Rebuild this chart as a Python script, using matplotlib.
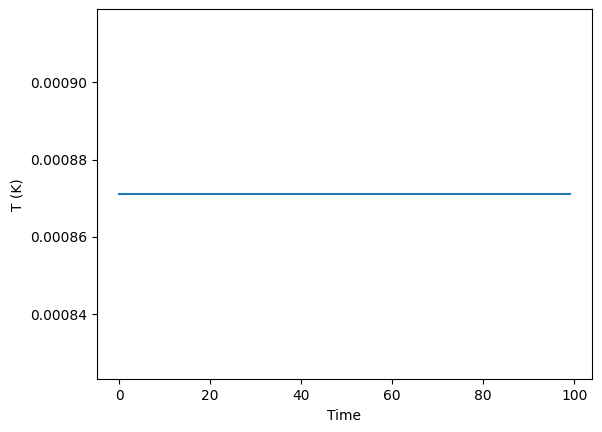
import matplotlib
matplotlib.use("Agg")
import matplotlib.pyplot as plt
import numpy as np

# time steps and (constant) temperature
time = np.arange(100)
temp_value = 0.000871
temperature = [temp_value] * len(time)

fig = plt.figure(figsize=(6.02, 4.32), dpi=100)
ax = fig.add_axes([0.1606, 0.122, 0.8233, 0.8565])
ax.plot(time, temperature)
ax.set_xlabel('Time')
ax.set_ylabel('T (K)')
fig.savefig('out.png', dpi=100)
